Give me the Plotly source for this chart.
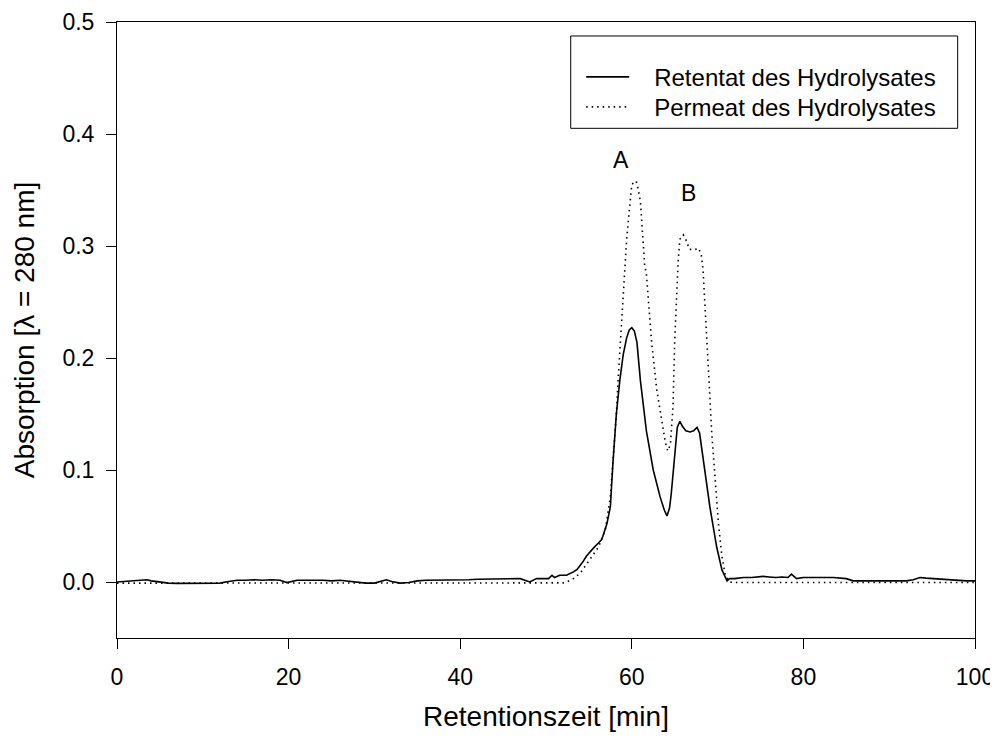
import plotly.graph_objects as go

# ---- data ----
ret_time = [0, 1, 2, 3, 3.5, 4, 5, 6, 7, 8, 9, 10, 11, 12, 13, 14, 15, 16, 17, 18, 19, 19.8,
            21, 22, 23, 24, 25, 26, 27, 28, 29, 30, 31, 31.4, 32, 33, 34, 35, 36, 37, 38, 39,
            40, 41, 42, 43, 44, 45, 46, 47, 48.1, 48.9, 49.5, 50.3, 50.7, 51, 51.6, 52.4, 53.2,
            53.6, 54.3, 54.7, 55.5, 56.5, 57.1, 57.5, 57.8, 58.2, 58.6, 59.0, 59.4, 59.7, 60.0,
            60.3, 60.6, 61.0, 61.7, 62.5, 63.3, 63.8, 64.1, 64.4, 64.6, 65.0, 65.3, 65.6, 65.9,
            66.3, 66.8, 67.2, 67.6, 67.9, 68.3, 69.1, 69.9, 70.5, 71.1, 71.4, 72, 73, 74, 75.3,
            76, 76.8, 77.5, 78.2, 78.6, 79.2, 80, 81.1, 82, 83.5, 85.0, 85.8, 87, 88, 89.3, 90,
            91, 92.0, 92.8, 93.6, 94.3, 95.1, 96, 96.7, 97.5, 98, 99, 100]
ret_abs = [0.0, 0.0005, 0.001, 0.0015, 0.002, 0.001, 0.0, -0.001, -0.0012, -0.0012, -0.0015,
           -0.0015, -0.0012, -0.001, 0.0005, 0.0015, 0.0015, 0.002, 0.0015, 0.002, 0.0015, -0.0005,
           0.0015, 0.0012, 0.0015, 0.0015, 0.001, 0.0015, 0.0005, -0.0005, -0.001, -0.001, 0.001,
           0.002, 0.0005, -0.001, -0.0005, 0.001, 0.0015, 0.0015, 0.002, 0.002, 0.002, 0.002,
           0.0025, 0.0025, 0.0025, 0.0025, 0.003, 0.003, 0.0, 0.003, 0.003, 0.003, 0.006, 0.004,
           0.006, 0.006, 0.009, 0.011, 0.018, 0.023, 0.030, 0.038, 0.052, 0.067, 0.106, 0.150,
           0.180, 0.203, 0.218, 0.225, 0.227, 0.224, 0.214, 0.180, 0.135, 0.100, 0.076, 0.064,
           0.059, 0.066, 0.079, 0.114, 0.138, 0.1435, 0.139, 0.135, 0.134, 0.135, 0.138, 0.133,
           0.111, 0.067, 0.031, 0.011, 0.001, 0.003, 0.003, 0.004, 0.004, 0.005, 0.0045, 0.004,
           0.0045, 0.004, 0.007, 0.003, 0.004, 0.004, 0.0035, 0.004, 0.003, 0.001, 0.001, 0.0012,
           0.001, 0.001, 0.001, 0.001, 0.002, 0.004, 0.0035, 0.003, 0.0025, 0.002, 0.0015, 0.001,
           0.001, 0.001]

perm_time = [0, 10, 20, 30, 40, 50, 52, 52.4, 53.2, 54.0, 54.5, 55.1, 56.1, 56.9, 57.5, 57.8,
             58.2, 58.4, 58.8, 59.2, 59.4, 59.7, 59.9, 60.0, 60.5, 60.7, 61.0, 61.2, 61.5, 61.7,
             62.3, 62.9, 63.5, 63.9, 64.2, 64.5, 64.8, 65.0, 65.4, 65.6, 66.0, 66.4, 66.7, 67.4,
             67.8, 68.1, 68.3, 68.6, 69.0, 69.3, 69.7, 70.1, 70.5, 70.9, 71.4, 72, 80, 90, 100]
perm_abs = [-0.001, -0.001, -0.001, -0.001, -0.001, -0.001, -0.0008, 0.0, 0.003, 0.008, 0.014,
            0.020, 0.031, 0.046, 0.076, 0.106, 0.150, 0.180, 0.230, 0.280, 0.306, 0.331, 0.350,
            0.355, 0.358, 0.352, 0.340, 0.314, 0.283, 0.275, 0.215, 0.172, 0.144, 0.125, 0.117,
            0.123, 0.156, 0.215, 0.286, 0.306, 0.310, 0.304, 0.297, 0.297, 0.298, 0.292, 0.279,
            0.231, 0.180, 0.135, 0.091, 0.052, 0.023, 0.006, 0.0, -0.0005, -0.0005, -0.0005,
            -0.0005]

series_names = ["Retentat des Hydrolysates", "Permeat des Hydrolysates"]
peak_labels = ["A", "B"]
peak_label_time = [58.7, 66.6]
peak_label_abs = [0.377, 0.347]

x_ticks = [0, 20, 40, 60, 80, 100]
y_ticks = [0.0, 0.1, 0.2, 0.3, 0.4, 0.5]

FONT = "Liberation Sans, Arial, sans-serif"
PAD = "\u00a0\u00a0\u00a0"

fig = go.Figure()
fig.add_trace(go.Scatter(x=ret_time, y=ret_abs, mode="lines", name=PAD + series_names[0],
                         legend="legend",
                         line=dict(color="black", width=1.6)))
fig.add_trace(go.Scatter(x=perm_time, y=perm_abs, mode="lines", name=PAD + series_names[1],
                         legend="legend2",
                         line=dict(color="black", width=1.6, dash="1.5px,4px")))

for lab, t, a in zip(peak_labels, peak_label_time, peak_label_abs):
    fig.add_annotation(x=t, y=a, text=lab, showarrow=False,
                       font=dict(family=FONT, size=23, color="black"))

# legend frame
fig.add_shape(type="rect", xref="paper", yref="paper",
              x0=0.5288, x1=0.9798, y0=0.8274, y1=0.9773,
              line=dict(color="black", width=1), fillcolor="rgba(0,0,0,0)")

leg_common = dict(xanchor="left", yanchor="top", bgcolor="rgba(0,0,0,0)", borderwidth=0,
                  font=dict(family=FONT, size=24, color="black"), itemwidth=43)

fig.update_layout(
    template="none",
    width=990, height=724,
    margin=dict(l=109, r=23, t=14, b=94, pad=0),
    paper_bgcolor="white", plot_bgcolor="white",
    font=dict(family=FONT, size=23, color="black"),
    showlegend=True,
    legend=dict(x=0.541, y=0.9468, **leg_common),
    legend2=dict(x=0.541, y=0.8981, **leg_common),
    xaxis=dict(range=[0, 100], tickvals=x_ticks, ticks="outside", ticklen=10,
               tickwidth=1, tickcolor="black", showline=True, linecolor="black",
               linewidth=1, mirror=True, showgrid=False, zeroline=False,
               automargin=False, ticklabelstandoff=8,
               tickfont=dict(family=FONT, size=23),
               title=dict(text="Retentionszeit [min]", font=dict(family=FONT, size=28),
                          standoff=21)),
    yaxis=dict(range=[-0.05, 0.5], tickvals=y_ticks, tickformat=".1f", ticks="outside",
               ticklen=10, tickwidth=1, tickcolor="black", showline=True,
               linecolor="black", linewidth=1, mirror=True, showgrid=False,
               zeroline=False, automargin=False, ticklabelstandoff=7,
               tickfont=dict(family=FONT, size=23),
               title=dict(text="Absorption [λ = 280 nm]", font=dict(family=FONT, size=28),
                          standoff=19)),
)

fig.write_html("out.html")
